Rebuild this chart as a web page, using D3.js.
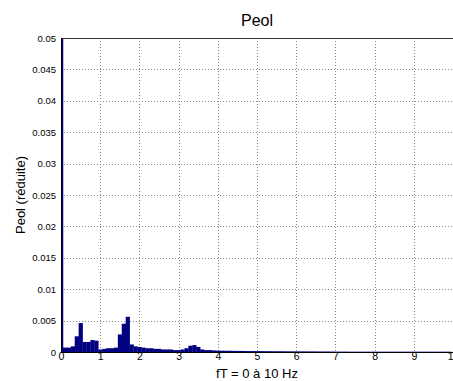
<!DOCTYPE html>
<html><head><meta charset="utf-8">
<script src="https://cdn.jsdelivr.net/npm/d3@7"></script>
<style>body{margin:0;background:#fff;} text{font-family:"Liberation Sans",Arial,sans-serif;}</style>
</head><body>
<svg id="c" width="453" height="381"></svg>
<script>
// Frequency bins (Hz), spacing 0.1
const freqs = d3.range(0, 100).map(i => +(i * 0.1).toFixed(1));
// Peol (réduite) values, one per bin
const peol = [
  0.06, 0.0007, 0.0007, 0.0009, 0.0025, 0.0046, 0.0016, 0.0016, 0.0019, 0.0018,
  0.0004, 0.0005, 0.0006, 0.0006, 0.0007, 0.0028, 0.0045, 0.0056, 0.0012, 0.0009,
  0.0008, 0.0007, 0.0006, 0.0006, 0.0005, 0.0005, 0.0004, 0.0004, 0.0004, 0.0003,
  0.0003, 0.0004, 0.0006, 0.0010, 0.0011, 0.0008, 0.0004, 0.0003, 0.0003, 0.00025,
  0.00022, 0.0002, 0.0002, 0.0002, 0.00018, 0.00018, 0.00017, 0.00016, 0.00015, 0.00015,
  0.00014, 0.00014, 0.00013, 0.00013, 0.00012, 0.00012, 0.00012, 0.00011, 0.00011, 0.0001,
  0.0001, 0.0001, 0.0001, 0.00009, 0.00009, 0.00009, 0.00008, 0.00008, 0.00008, 0.00007,
  0.00006, 0.00006, 0.00006, 0.00006, 0.00005, 0.00005, 0.00005, 0.00005, 0.00005, 0.00005,
  0.00005, 0.00005, 0.00005, 0.00005, 0.00005, 0.00005, 0.00005, 0.00005, 0.00005, 0.00005,
  0.00005, 0.00005, 0.00005, 0.00005, 0.00005, 0.00005, 0.00005, 0.00005, 0.00005, 0.00005
];
const xTicks = [0,1,2,3,4,5,6,7,8,9,10];
const yTicks = [0,0.005,0.01,0.015,0.02,0.025,0.03,0.035,0.04,0.045,0.05];
const yTickLabels = ["0","0.005","0.01","0.015","0.02","0.025","0.03","0.035","0.04","0.045","0.05"];
const title = "Peol";
const xLabel = "fT = 0 à 10 Hz";
const yLabel = "Peol (réduite)";

const L = 61, R = 453, T = 38, B = 352;
const svg = d3.select("#c");
const x = d3.scaleLinear().domain([0, 10]).range([L, R]);
const y = d3.scaleLinear().domain([0, 0.05]).range([B, T]);

// grid
const grid = svg.append("g");
grid.selectAll("line.gx").data(xTicks.slice(1)).enter().append("line")
  .attr("x1", d => Math.round(x(d)) + 0.5).attr("x2", d => Math.round(x(d)) + 0.5)
  .attr("y1", T).attr("y2", B)
  .attr("stroke", "#8a8a8a").attr("stroke-width", 1).attr("stroke-dasharray", "1,2");
grid.selectAll("line.gy").data(yTicks.slice(1)).enter().append("line")
  .attr("x1", L).attr("x2", R)
  .attr("y1", d => Math.round(y(d)) + 0.5).attr("y2", d => Math.round(y(d)) + 0.5)
  .attr("stroke", "#8a8a8a").attr("stroke-width", 1).attr("stroke-dasharray", "1,2");

// bars
svg.append("defs").append("clipPath").attr("id", "clip")
  .append("rect").attr("x", L).attr("y", T).attr("width", R - L).attr("height", B - T);
svg.append("g").attr("clip-path", "url(#clip)")
  .selectAll("rect").data(freqs).enter().append("rect")
  .attr("x", (d) => x(d - 0.05))
  .attr("width", x(0.1) - x(0) + 0.3)
  .attr("y", (d, i) => y(peol[i]))
  .attr("height", (d, i) => B - y(peol[i]))
  .attr("fill", "#000080");

// box
svg.append("line").attr("x1", L).attr("x2", R).attr("y1", T + 0.5).attr("y2", T + 0.5)
  .attr("stroke", "#333").attr("stroke-width", 1);
svg.append("line").attr("x1", L).attr("x2", R).attr("y1", B + 0.5).attr("y2", B + 0.5)
  .attr("stroke", "#000").attr("stroke-width", 1);
svg.append("line").attr("x1", L + 0.5).attr("x2", L + 0.5).attr("y1", T).attr("y2", B)
  .attr("stroke", "#000").attr("stroke-width", 1);

// axes labels
const xAxis = d3.axisBottom(x).tickValues(xTicks).tickSize(0).tickPadding(1)
  .tickFormat(d3.format("d"));
const gx = svg.append("g").attr("transform", `translate(0,${B})`).call(xAxis);
gx.select(".domain").remove();
gx.selectAll("text").attr("font-size", 10.5).attr("fill", "#000")
  .style("font-family", '"Liberation Sans",Arial,sans-serif');

const yAxis = d3.axisLeft(y).tickValues(yTicks).tickSize(0).tickPadding(5)
  .tickFormat((d, i) => yTickLabels[i]);
const gy = svg.append("g").attr("transform", `translate(${L},0)`).call(yAxis);
gy.select(".domain").remove();
gy.selectAll("text").attr("font-size", 9.5).attr("fill", "#000")
  .style("font-family", '"Liberation Sans",Arial,sans-serif');

svg.append("text").attr("x", (L + R) / 2).attr("y", 26).attr("text-anchor", "middle")
  .attr("font-size", 16).text(title);
svg.append("text").attr("x", (L + R) / 2).attr("y", 378).attr("text-anchor", "middle")
  .attr("font-size", 13).text(xLabel);
svg.append("text").attr("transform", `translate(25,${(T + B) / 2}) rotate(-90)`)
  .attr("text-anchor", "middle").attr("font-size", 13).text(yLabel);
</script>
</body></html>
